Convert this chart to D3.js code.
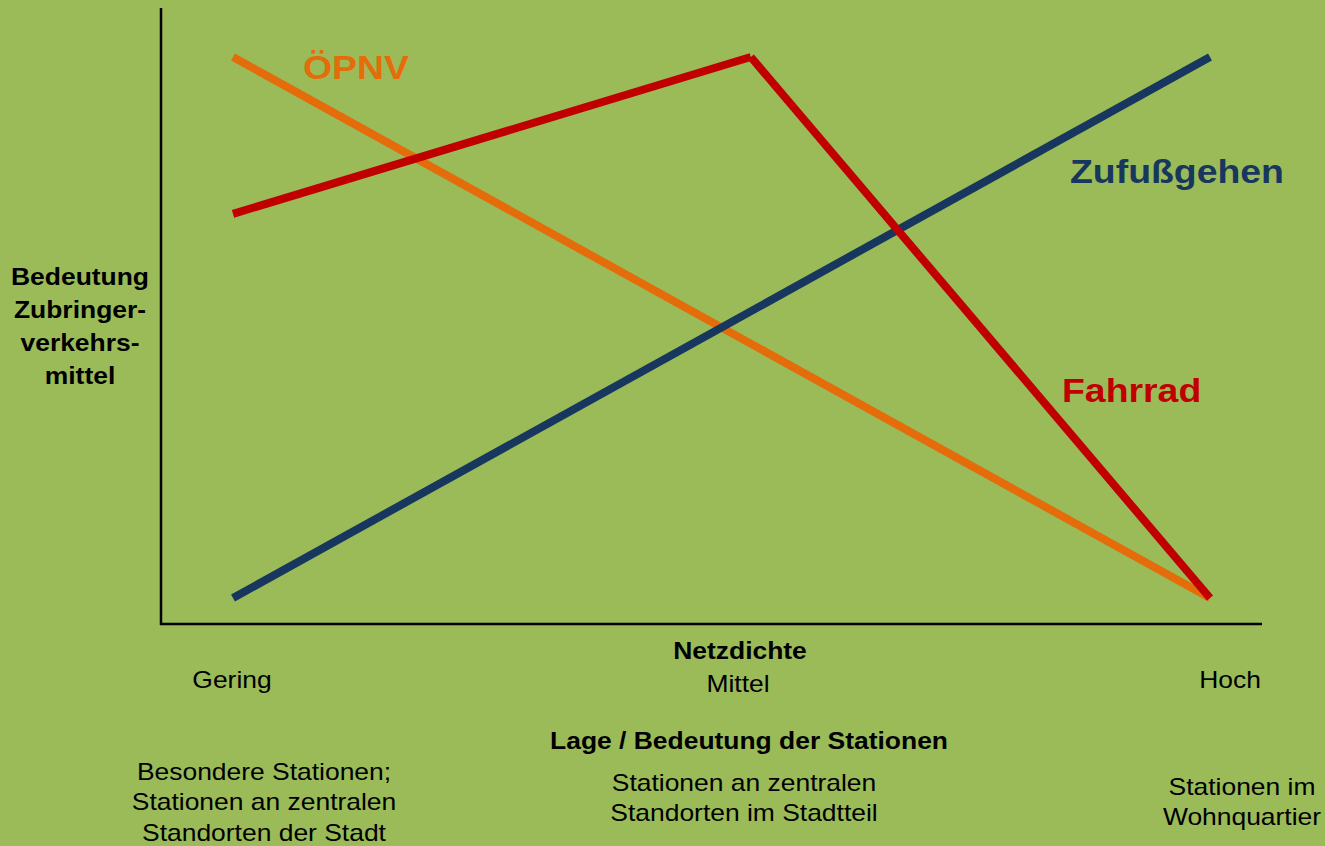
<!DOCTYPE html>
<html>
<head>
<meta charset="utf-8">
<script src="https://cdn.jsdelivr.net/npm/d3@7"></script>
<style>
  html, body { margin: 0; padding: 0; background: #9BBB59; }
  svg { display: block; font-family: "Liberation Sans", Arial, sans-serif; }
</style>
</head>
<body>
<script>
// data
var xNames = ["Gering", "Mittel", "Hoch"];          // Netzdichte levels
var xLevels = [0, 0.53, 1];                         // position of each level
var stationLabels = [
  ["Besondere Stationen;", "Stationen an zentralen", "Standorten der Stadt"],
  ["Stationen an zentralen", "Standorten im Stadtteil"],
  ["Stationen im", "Wohnquartier"]
];
var seriesNames = ["ÖPNV", "Zufußgehen", "Fahrrad"];
var opnvX = [0, 1],          opnvY = [100, 0];
var fussX = [0, 1],          fussY = [0, 100];
var radX  = [0, 0.53, 1],    radY  = [71, 100, 0];
var yTitle = ["Bedeutung", "Zubringer-", "verkehrs-", "mittel"];

var w = 1325, h = 846;
var colors = { "ÖPNV": "#E46C0A", "Zufußgehen": "#17375E", "Fahrrad": "#C00000" };
var stretch = 1.15;   // text in the reference is a bit wide

var svg = d3.select("body").append("svg")
    .attr("width", w)
    .attr("height", h);

// scales
var xScale = d3.scaleLinear().domain([0, 1]).range([233, 1210]);
var yScale = d3.scaleLinear().domain([0, 100]).range([598, 57]);

// axes (plain lines, no ticks)
svg.append("line")
    .attr("x1", 161).attr("x2", 161)
    .attr("y1", 8).attr("y2", 625)
    .attr("stroke", "#000").attr("stroke-width", 2.5);
svg.append("line")
    .attr("x1", 160).attr("x2", 1262)
    .attr("y1", 624).attr("y2", 624)
    .attr("stroke", "#000").attr("stroke-width", 2.5);

function toPoints(xs, ys) {
  return xs.map(function(x, i) { return [x, ys[i]]; });
}
var line = d3.line()
    .x(function(d) { return xScale(d[0]); })
    .y(function(d) { return yScale(d[1]); });

// draw each series as separate segments (butt ends)
function drawSeries(name, xs, ys) {
  var pts = toPoints(xs, ys);
  for (var i = 0; i < pts.length - 1; i++) {
    svg.append("path")
        .attr("d", line([pts[i], pts[i + 1]]))
        .attr("fill", "none")
        .attr("stroke", colors[name])
        .attr("stroke-width", 8);
  }
}
drawSeries("ÖPNV", opnvX, opnvY);
drawSeries("Zufußgehen", fussX, fussY);
drawSeries("Fahrrad", radX, radY);

// text helper, stretched horizontally
function label(txt, x, y, opts) {
  var g = svg.append("g")
      .attr("transform", "translate(" + x + "," + y + ") scale(" + (opts.sx || stretch) + ",1)");
  return g.append("text")
      .attr("x", 0).attr("y", 0)
      .attr("text-anchor", opts.anchor || "middle")
      .attr("dominant-baseline", "central")
      .attr("font-size", (opts.size || 23) + "px")
      .attr("font-weight", opts.bold ? "bold" : "normal")
      .attr("fill", opts.fill || "#000")
      .text(txt);
}

// series labels
var seriesLabels = [
  {name: "ÖPNV", x: 303, y: 68},
  {name: "Zufußgehen", x: 1070, y: 172},
  {name: "Fahrrad", x: 1062, y: 391}
];
seriesLabels.forEach(function(d) {
  label(d.name, d.x, d.y, {anchor: "start", size: 34, bold: true, sx: 1.1, fill: colors[d.name]});
});

// y title
yTitle.forEach(function(t, i) { label(t, 80, 277 + i * 33, {bold: true}); });

// x titles
label("Netzdichte", 740, 651, {bold: true});
label("Lage / Bedeutung der Stationen", 749, 741, {bold: true});

var nameX = [232, 738, 1230], nameY = [680, 684, 680];
xNames.forEach(function(n, i) { label(n, nameX[i], nameY[i], {}); });

var stX = [264, 744, 1242], stY = [772, 783, 787];
stationLabels.forEach(function(lines, i) {
  lines.forEach(function(l, j) { label(l, stX[i], stY[i] + j * 30.5, {}); });
});
</script>
</body>
</html>
